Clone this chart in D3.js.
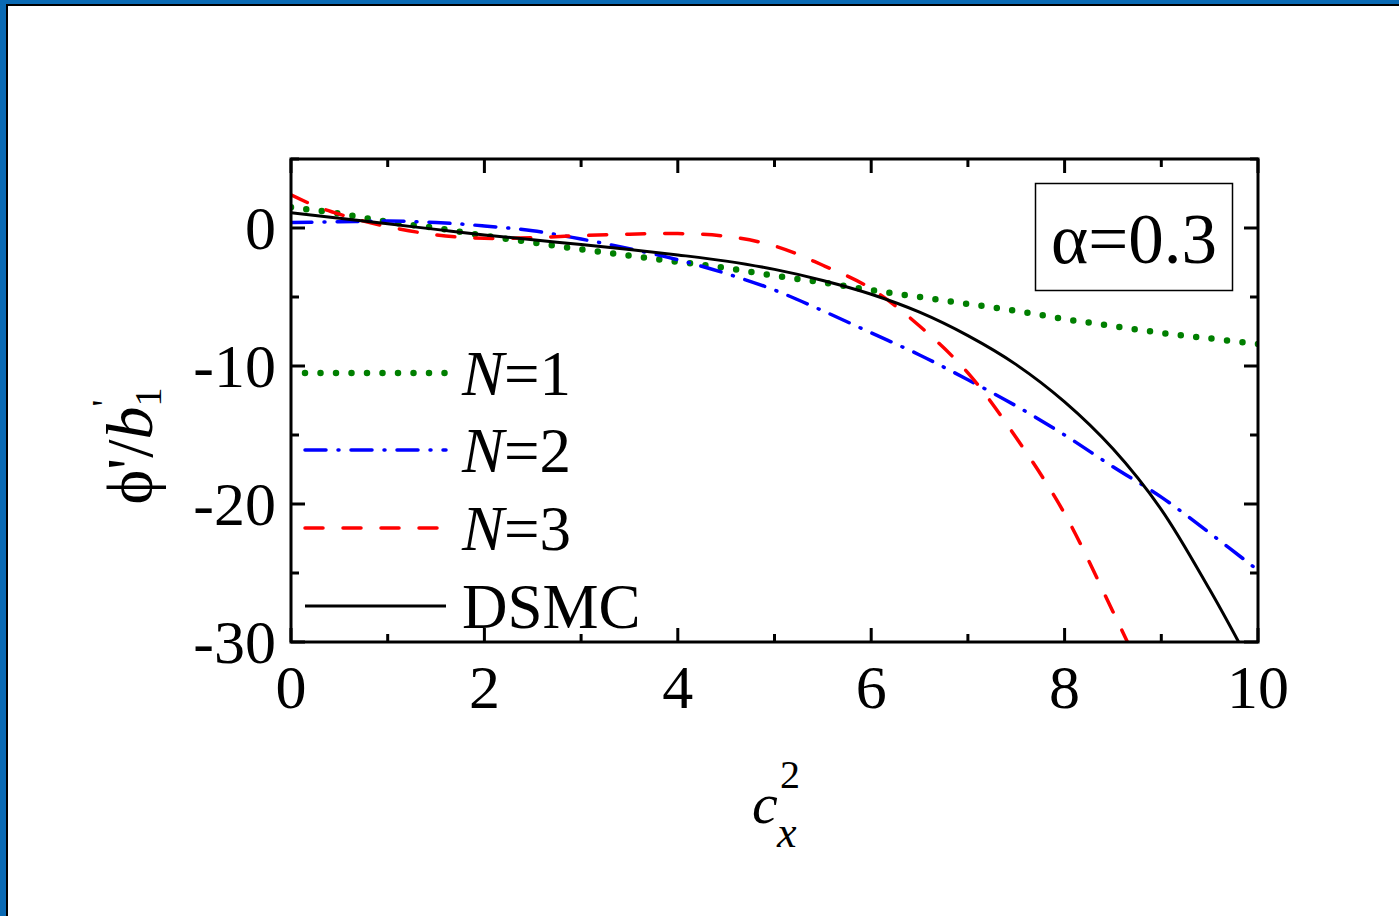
<!DOCTYPE html>
<html>
<head>
<meta charset="utf-8">
<script src="https://cdn.jsdelivr.net/npm/d3@7"></script>
<style>
  html, body { margin: 0; padding: 0; background: #fff; }
  svg { display: block; }
  text { font-family: "Liberation Serif", "Times New Roman", serif; fill: #000; }
</style>
</head>
<body>
<script>
// c_x^2 sample positions
const cx2 = [0, 0.5, 1, 1.5, 2, 2.5, 3, 3.5, 4, 4.5, 5, 5.5, 6, 6.5, 7, 7.5, 8, 8.5, 9, 9.5, 10];

// N=1 approximation
const n1 = [1.5, 1.05, 0.45, 0.0, -0.55, -1.05, -1.55, -2.0, -2.45, -2.9, -3.45, -3.95, -4.5, -5.0, -5.5, -6.0, -6.6, -7.1, -7.6, -8.0, -8.4];
// N=2 approximation
const n2 = [0.4, 0.45, 0.5, 0.4, 0.15, -0.2, -0.8, -1.5, -2.3, -3.3, -4.5, -6.0, -7.6, -9.2, -11.0, -12.9, -15.0, -17.3, -19.5, -22.1, -24.8];
// N=3 approximation (leaves the frame near c_x^2 = 8.65)
const n3x = [0, 0.25, 0.5, 0.75, 1, 1.5, 2, 2.5, 3, 3.5, 4, 4.5, 5, 5.5, 6, 6.5, 7, 7.5, 8, 8.5, 8.65];
const n3 = [2.4, 1.6, 1.0, 0.5, 0.1, -0.5, -0.75, -0.7, -0.55, -0.45, -0.4, -0.6, -1.3, -2.7, -4.4, -7.1, -10.5, -15.2, -20.7, -27.8, -30];
// DSMC reference
const dsmcX = [0, 0.5, 1, 1.5, 2, 2.5, 3, 3.5, 4, 4.5, 5, 5.5, 6, 6.5, 7, 7.5, 8, 8.5, 9, 9.5, 9.8];
const dsmc = [1.1, 0.7, 0.3, -0.1, -0.5, -0.85, -1.2, -1.55, -1.95, -2.4, -3.0, -3.8, -4.8, -6.1, -7.8, -9.9, -12.6, -16.0, -20.4, -26.2, -30];

const xTicks = [0, 2, 4, 6, 8, 10];
const yTicks = [0, -10, -20, -30];
const legendLabels = ["N=1", "N=2", "N=3", "DSMC"];
const annotation = "α=0.3";

const W = 1399, H = 916;
const svg = d3.select("body").append("svg").attr("width", W).attr("height", H);

// window frame
svg.append("rect").attr("x", 0).attr("y", 0).attr("width", W).attr("height", H).attr("fill", "#0a6ab4");
svg.append("rect").attr("x", 6).attr("y", 4).attr("width", W).attr("height", H).attr("fill", "#000");
svg.append("rect").attr("x", 8).attr("y", 6).attr("width", W).attr("height", H).attr("fill", "#fff");

const pLeft = 291, pRight = 1258, pTop = 159, pBottom = 642;
const x = d3.scaleLinear().domain([0, 10]).range([pLeft, pRight]);
const y = d3.scaleLinear().domain([-30, 5]).range([pBottom, pTop]);

svg.append("clipPath").attr("id", "plotclip")
  .append("rect").attr("x", pLeft).attr("y", pTop).attr("width", pRight - pLeft).attr("height", pBottom - pTop);

// ticks (inward, on all four sides)
const g = svg.append("g");
const majLen = 14, minLen = 8;
const xMinor = d3.range(0, 10.001, 1);
const yMinor = d3.range(-30, 5.001, 5);
xMinor.forEach(v => {
  const len = (v % 2 === 0) ? majLen : minLen;
  g.append("line").attr("x1", x(v)).attr("x2", x(v)).attr("y1", pBottom).attr("y2", pBottom - len).attr("stroke", "#000").attr("stroke-width", 3);
  g.append("line").attr("x1", x(v)).attr("x2", x(v)).attr("y1", pTop).attr("y2", pTop + len).attr("stroke", "#000").attr("stroke-width", 3);
});
yMinor.forEach(v => {
  const len = (v % 10 === 0) ? majLen : minLen;
  g.append("line").attr("x1", pLeft).attr("x2", pLeft + len).attr("y1", y(v)).attr("y2", y(v)).attr("stroke", "#000").attr("stroke-width", 3);
  g.append("line").attr("x1", pRight).attr("x2", pRight - len).attr("y1", y(v)).attr("y2", y(v)).attr("stroke", "#000").attr("stroke-width", 3);
});

// tick labels
g.selectAll(".xt").data(xTicks).enter().append("text")
  .attr("x", d => x(d)).attr("y", 708).attr("text-anchor", "middle")
  .attr("font-size", 62).text(d => d);
g.selectAll(".yt").data(yTicks).enter().append("text")
  .attr("x", 276).attr("y", d => y(d) + 21).attr("text-anchor", "end")
  .attr("font-size", 62).text(d => d === 0 ? "0" : "-" + Math.abs(d));

// curves
const line = d3.line().x(d => x(d[0])).y(d => y(d[1])).curve(d3.curveCatmullRom.alpha(0.5));
const series = [
  { pts: d3.zip(cx2, n1), color: "#007f00", width: 6.5, dash: "0 15.5", cap: "round" },
  { pts: d3.zip(cx2, n2), color: "#0000ff", width: 3.5, dash: "21 12 1 12", cap: "round" },
  { pts: d3.zip(n3x, n3), color: "#ff0000", width: 3.5, dash: "18 20", cap: "round" },
  { pts: d3.zip(dsmcX, dsmc), color: "#000000", width: 3, dash: null, cap: "butt" }
];
const plot = svg.append("g").attr("clip-path", "url(#plotclip)");
series.forEach(s => {
  plot.append("path").attr("d", line(s.pts)).attr("fill", "none")
    .attr("stroke", s.color).attr("stroke-width", s.width)
    .attr("stroke-linecap", s.cap)
    .attr("stroke-dasharray", s.dash);
});

// frame
svg.append("rect").attr("x", pLeft).attr("y", pTop).attr("width", pRight - pLeft).attr("height", pBottom - pTop)
  .attr("fill", "none").attr("stroke", "#000").attr("stroke-width", 3);

// legend
const legY = [373, 450, 528, 606];
series.forEach((s, i) => {
  svg.append("line").attr("x1", 305).attr("x2", 446).attr("y1", legY[i]).attr("y2", legY[i])
    .attr("stroke", s.color).attr("stroke-width", s.width)
    .attr("stroke-linecap", s.cap).attr("stroke-dasharray", s.dash);
  const t = svg.append("text").attr("x", 462).attr("y", legY[i] + 22).attr("font-size", 63);
  const lab = legendLabels[i];
  if (lab.startsWith("N=")) {
    t.append("tspan").attr("font-style", "italic").text("N");
    t.append("tspan").text(lab.slice(1));
  } else {
    t.text(lab);
  }
});

// annotation box
svg.append("rect").attr("x", 1035.5).attr("y", 183.5).attr("width", 197).attr("height", 107)
  .attr("fill", "#fff").attr("stroke", "#000").attr("stroke-width", 1.5);
svg.append("text").attr("x", 1051).attr("y", 263).attr("font-size", 71).text(annotation);

// y-axis title: ϕ'/b'_1
const yl = svg.append("text").attr("transform", "translate(152,446) rotate(-90)")
  .attr("text-anchor", "middle").attr("font-size", 66);
yl.append("tspan").text("ϕ'/");
yl.append("tspan").attr("font-style", "italic").text("b");
yl.append("tspan").attr("font-size", 38).attr("dy", -34).text("'");
yl.append("tspan").attr("font-size", 38).attr("dx", -7).attr("dy", 43).text("1");

// x-axis title: c_x^2
const xl = svg.append("g");
xl.append("text").attr("x", 752).attr("y", 823).attr("font-size", 58).attr("font-style", "italic").text("c");
xl.append("text").attr("x", 780).attr("y", 788).attr("font-size", 40).text("2");
xl.append("text").attr("x", 777).attr("y", 847).attr("font-size", 44).attr("font-style", "italic").text("x");
</script>
</body>
</html>
